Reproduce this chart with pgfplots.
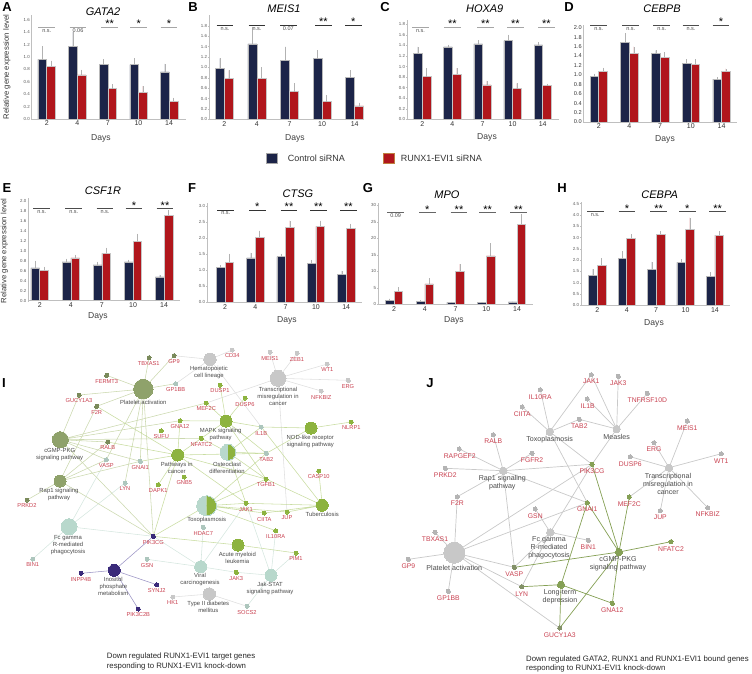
\documentclass[border=0pt]{standalone}
\usepackage{pgfplots}
\pgfplotsset{compat=1.18}
\usepackage{fontspec}
\setmainfont{Liberation Sans}
\usetikzlibrary{plotmarks}
\definecolor{navy}{HTML}{1C2448}
\definecolor{rd}{HTML}{B0161C}
\definecolor{gred}{HTML}{C8404F}
\definecolor{txt}{HTML}{4A4A4A}
\definecolor{olv}{HTML}{8FA26B}
\definecolor{grn}{HTML}{8DB33F}
\definecolor{tea}{HTML}{B8D8CC}
\definecolor{gry}{HTML}{C8C8C8}
\definecolor{pur}{HTML}{3A2A7A}
\definecolor{eolv}{HTML}{CBD8AE}
\definecolor{egrn}{HTML}{C8DCA0}
\definecolor{etea}{HTML}{D5E6DF}
\definecolor{egry}{HTML}{DEDEDE}
\definecolor{epur}{HTML}{9A93C4}
\definecolor{jgry}{HTML}{C9C9C9}
\definecolor{jgrn}{HTML}{85A055}
\newcommand\fs[1]{\fontsize{#1}{#1}\selectfont}
\newcommand\bars[9]{% left,base,right,height,x0,sp,ymax,extra,barw ; then blue, red via \bblue \bred
\pgfmathsetmacro\xa{(#1-#5)/#6}\pgfmathsetmacro\xb{(#3-#5)/#6}\pgfmathsetmacro\hw{#9/2}
\begin{axis}[scale only axis,at={(#1pt,-#2pt)},anchor=south west,width=#3pt-#1pt,height=#4pt,
 xmin=\xa,xmax=\xb,ymin=0,ymax=#7,axis x line=bottom,axis y line=left,
 axis line style={-,draw=gray!50,line width=.5pt},
 xtick={0,1,2,3,4},xticklabels={2,4,7,10,14},
 tick style={draw=gray!50,line width=.4pt},major tick length=1.5pt,
 xticklabel style={font=\fs{7},text=black!80,inner sep=0pt,yshift=-1pt},
 yticklabel style={font=\fs{4.4},text=black!65,inner sep=0pt,xshift=-1pt,/pgf/number format/fixed,/pgf/number format/fixed zerofill,/pgf/number format/precision=1,/pgf/number format/assume math mode=true},
 #8]
\edef\tmpa{\noexpand\addplot[ybar,bar width=#9pt,bar shift=-\hw pt,fill=navy,draw=gray!55,line width=.5pt,error bars/.cd,y dir=plus,y explicit,error bar style={draw=gray!60,line width=.5pt,xshift=-\hw pt},error mark=none] coordinates {\bblue};}\tmpa
\edef\tmpb{\noexpand\addplot[ybar,bar width=#9pt,bar shift=\hw pt,fill=rd,draw=gray!45,line width=.5pt,error bars/.cd,y dir=plus,y explicit,error bar style={draw=gray!60,line width=.5pt,xshift=\hw pt},error mark=none] coordinates {\bred};}\tmpb
\end{axis}}
\newcommand\At[4][]{\node[inner sep=0pt,#1] at (#2pt,-#3pt) {#4};}
\newcommand\Ltr[3]{\At{#1}{#2}{\fs{13}\bfseries #3}}
\newcommand\Ttl[3]{\At{#1}{#2}{\fs{11}\itshape #3}}
\newcommand\Dy[2]{\At{#1}{#2}{\fs{8.6}\color{black!75}Days}}
\newcommand\Sa[2]{\draw[\sc,line width=\sw pt] (#1pt-8.3pt,-\sy pt)--(#1pt+8.3pt,-\sy pt);\At[anchor=base]{#1}{\sy-4.8}{\fs{5.5}\color{black!70}#2}}
\newcommand\Sb[2]{\draw[\sc,line width=\sw pt] (#1pt-8.3pt,-\sy pt)--(#1pt+8.3pt,-\sy pt);\At[anchor=base]{#1}{\sy-0.3}{\fs{11}#2}}
\newcommand\Dc[3]{\expandafter\gdef\csname n@#1\endcsname{#2,#3}}
\newcommand\Hub[3]{\gdef\acc{}\foreach \x in {#3}{\xdef\acc{\acc (\csname n@#2\endcsname) (\csname n@\x\endcsname) }}%
\edef\tmp{\noexpand\addplot[no marks,draw=#1,line width=\elw pt] coordinates {\acc};}\tmp}
\newcommand\Nd[3]{\edef\tmp{\noexpand\addplot[color=#3,only marks,mark=*,mark size=#2pt,mark options={line width=0pt,draw=#3,fill=#3}] coordinates {(\csname n@#1\endcsname)};}\tmp}
\newcommand\Ns[3]{\foreach \x in {#3}{\Nd{\x}{#1}{#2}}}
\newcommand\Hf[3]{\edef\tmp{\noexpand\addplot[color=tea,only marks,mark=halfcircle*,mark size=#2pt,mark color=grn,mark options={line width=0pt,draw=tea,fill=tea,rotate=#3}] coordinates {(\csname n@#1\endcsname)};}\tmp}
\newcommand\Gi[3]{\At{#1}{#2}{\fs{5.7}\color{gred}#3}}
\newcommand\Ti[3]{\At[align=center,font={\fontsize{5.9}{7}\selectfont},text=txt]{#1}{#2}{#3}}
\newcommand\Gj[3]{\At{#1}{#2}{\fs{6.8}\color{gred}#3}}
\newcommand\Tj[3]{\At[align=center,font={\fontsize{7.1}{8}\selectfont},text=txt]{#1}{#2}{#3}}
\begin{document}
\begin{tikzpicture}[x=1pt,y=1pt]
\useasboundingbox (0,0) rectangle (752pt,-674pt);
% A
\def\bblue{(0,.96) +- (0,.21) (1,1.17) +- (0,.23) (2,.88) +- (0,.08) (3,.875) +- (0,.105) (4,.76) +- (0,.13)}
\def\bred{(0,.85) +- (0,.09) (1,.71) +- (0,.08) (2,.49) +- (0,.07) (3,.43) +- (0,.10) (4,.29) +- (0,.05)}
\bars{31.7}{119}{185.7}{104}{46.7}{30.6}{1.676}{ytick={0,.2,...,1.61}}{8.7}
% B
\def\bblue{(0,.98) +- (0,.19) (1,1.45) +- (0,.33) (2,1.14) +- (0,.26) (3,1.17) +- (0,.16) (4,.80) +- (0,.14)}
\def\bred{(0,.78) +- (0,.16) (1,.79) +- (0,.21) (2,.53) +- (0,.16) (3,.34) +- (0,.12) (4,.26) +- (0,.06)}
\bars{209}{119.3}{364}{104.3}{224.3}{32.6}{2.006}{ytick={0,.2,...,1.81}}{9}
% C
\def\bblue{(0,1.25) +- (0,.12) (1,1.37) +- (0,.04) (2,1.43) +- (0,.07) (3,1.49) +- (0,.11) (4,1.41) +- (0,.05)}
\def\bred{(0,.81) +- (0,.16) (1,.85) +- (0,.12) (2,.65) +- (0,.08) (3,.58) +- (0,.10) (4,.64) +- (0,.03)}
\bars{407}{119.3}{558.7}{99.3}{422.3}{30.1}{1.881}{ytick={0,.2,...,1.81}}{8.7}
% D
\def\bblue{(0,.96) +- (0,.06) (1,1.69) +- (0,.19) (2,1.45) +- (0,.07) (3,1.25) +- (0,.08) (4,.91) +- (0,.04)}
\def\bred{(0,1.08) +- (0,.07) (1,1.46) +- (0,.14) (2,1.37) +- (0,.11) (3,1.22) +- (0,.11) (4,1.08) +- (0,.05)}
\bars{583.7}{122}{737}{97}{598.7}{30.7}{2.057}{ytick={0,.2,...,2.01},yticklabel style={font=\fs{5.6},text=black!80}}{8.7}
% E
\def\bblue{(0,.66) +- (0,.14) (1,.78) +- (0,.06) (2,.72) +- (0,.06) (3,.78) +- (0,.04) (4,.48) +- (0,.04)}
\def\bred{(0,.61) +- (0,.07) (1,.86) +- (0,.06) (2,.95) +- (0,.11) (3,1.19) +- (0,.15) (4,1.71) +- (0,.10)}
\bars{28.3}{300.7}{180}{102.7}{39.7}{31.1}{2.06}{ytick={0,.2,...,2.01}}{8.7}
% F
\def\bblue{(0,1.09) +- (0,.07) (1,1.38) +- (0,.16) (2,1.42) +- (0,.09) (3,1.21) +- (0,.11) (4,.88) +- (0,.10)}
\def\bred{(0,1.25) +- (0,.26) (1,2.03) +- (0,.20) (2,2.34) +- (0,.20) (3,2.36) +- (0,.18) (4,2.29) +- (0,.15)}
\bars{207}{302.3}{362}{99.3}{225}{30.3}{3.09}{ytick={0,.5,...,3.01}}{8.7}
% G
\def\bblue{(0,1.2) +- (0,.5) (1,1.0) +- (0,.3) (2,.6) +- (0,.1) (3,.5) +- (0,.1) (4,.7) +- (0,.1)}
\def\bred{(0,3.9) +- (0,1.3) (1,6.2) +- (0,1.7) (2,10) +- (0,2.2) (3,14.7) +- (0,3.8) (4,24.2) +- (0,3.1)}
\bars{378}{304.3}{532.7}{101.3}{394}{30.75}{30.7}{ytick={0,5,...,30},yticklabel style={/pgf/number format/precision=0,/pgf/number format/fixed zerofill=false}}{8.7}
% H
\def\bblue{(0,1.33) +- (0,.27) (1,2.09) +- (0,.31) (2,1.60) +- (0,.32) (3,1.90) +- (0,.15) (4,1.29) +- (0,.18)}
\def\bred{(0,1.78) +- (0,.30) (1,2.98) +- (0,.17) (2,3.14) +- (0,.14) (3,3.35) +- (0,.53) (4,3.11) +- (0,.17)}
\bars{581}{305.3}{729.7}{103.3}{597.3}{29.4}{4.575}{ytick={0,.5,...,4.51}}{8.7}
% Network canvas
\begin{axis}[scale only axis,at={(0,-674pt)},anchor=south west,width=752pt,height=674pt,xmin=0,xmax=752,ymin=0,ymax=674,y dir=reverse,hide axis,clip=false]
\Dc{PA}{143.3}{389}\Dc{HE}{210}{359.3}\Dc{CD34}{232.3}{350}\Dc{GP9}{174}{355.7}\Dc{TBXAS1}{149}{357.7}
\Dc{FERMT3}{106.7}{375.3}\Dc{GP1BB}{175.7}{383.7}\Dc{GUCY1A3}{79}{395}\Dc{F2R}{96.7}{406.3}
\Dc{MEIS1}{270}{352.3}\Dc{ZEB1}{297}{353.3}\Dc{WT1}{327.3}{364}\Dc{ERG}{348.3}{380.3}\Dc{NFKBIZ}{321.3}{391}
\Dc{TR}{278}{378.3}\Dc{DUSP1}{220}{385}\Dc{DUSP6}{245}{398}\Dc{MEF2C}{206.3}{403}\Dc{GNA12}{180}{420.7}
\Dc{MAPK}{226}{421}\Dc{IL1B}{261.3}{427}\Dc{NOD}{311}{428}\Dc{NLRP1}{351.3}{422}\Dc{CG}{60.3}{439.7}
\Dc{RALB}{107.7}{442}\Dc{SUFU}{161.3}{430.7}\Dc{NFATC2}{201.3}{438.3}\Dc{PC}{177.7}{455}\Dc{OS}{228}{452.3}
\Dc{TAB2}{266.3}{453.3}\Dc{VASP}{106.3}{459.7}\Dc{GNAI1}{140.3}{461.3}\Dc{GNB5}{184.3}{477}\Dc{TGFB1}{266}{479}
\Dc{RP}{60}{481}\Dc{LYN}{125}{483}\Dc{DAPK1}{158.3}{484.7}\Dc{CASP10}{318.7}{471}\Dc{PRKD2}{27}{500}
\Dc{TX}{206.7}{505.7}\Dc{TB}{322.3}{505.3}\Dc{JAK1}{246}{503.3}\Dc{CIITA}{264.3}{513}\Dc{JUP}{287}{512}
\Dc{IL10RA}{275.7}{530.7}\Dc{HDAC7}{203.3}{527.3}\Dc{FC}{69}{526.7}\Dc{PIK3CG}{153.3}{536.3}\Dc{AML}{238}{545}
\Dc{PIM1}{296}{553}\Dc{BIN1}{32.7}{559}\Dc{GSN}{147}{559.3}\Dc{IN}{114.3}{570.3}\Dc{INPP4B}{81}{573.3}
\Dc{SYNJ2}{156.7}{584.7}\Dc{PIK3C2B}{138.3}{609}\Dc{VI}{200.7}{566.7}\Dc{JAK3}{236.3}{572.3}\Dc{JS}{271}{575.3}
\Dc{T2}{209.3}{594}\Dc{HK1}{172.7}{597}\Dc{SOCS2}{247}{606.3}
\def\elw{.55}
\Hub{egry}{HE}{CD34,GP9,GP1BB,IL1B}
\Hub{egry}{TR}{MEIS1,ZEB1,WT1,ERG,NFKBIZ,MEF2C,JUP}
\Hub{egry}{T2}{HK1,SOCS2}
\Hub{etea}{FC}{BIN1,PIK3CG,VASP,LYN}
\Hub{etea}{VI}{PIK3CG,HDAC7,GSN,JAK1,JAK3}
\Hub{etea}{JS}{JAK3,JAK1,PIM1,IL10RA,SOCS2}
\Hub{eolv}{PA}{TBXAS1,GP9,FERMT3,GP1BB,GUCY1A3,F2R,GNAI1,LYN,VASP,PIK3CG}
\Hub{eolv}{CG}{GUCY1A3,MEF2C,GNA12,NFATC2,VASP,GNAI1,RALB,PIK3CG}
\Hub{eolv}{RP}{F2R,RALB,VASP,GNAI1,PRKD2,PIK3CG}
\Hub{egrn}{PC}{GNA12,F2R,DAPK1,RALB,GNAI1,NFATC2,TGFB1,TAB2,JAK1,PIK3CG}
\Hub{egrn}{MAPK}{DUSP1,DUSP6,MEF2C,GNA12,IL1B,TAB2,TGFB1,NFATC2}
\Hub{egrn}{NOD}{NLRP1,IL1B,TAB2}
\Hub{egrn}{OS}{IL1B,TAB2,TGFB1,NFATC2,JAK1}
\Hub{egrn}{TX}{JAK1,CIITA,JUP,IL10RA,TGFB1,TAB2,PIK3CG}
\Hub{egrn}{TB}{JAK1,CIITA,JUP,IL1B,TGFB1,CASP10}
\Hub{egrn}{AML}{PIK3CG,PIM1}
\Hub{epur}{IN}{INPP4B,SYNJ2,PIK3C2B,PIK3CG}
\Nd{PA}{9.7}{olv}\Nd{CG}{8}{olv}\Nd{RP}{6}{olv}
\Nd{HE}{6.2}{gry}\Nd{TR}{8}{gry}\Nd{T2}{6.2}{gry}
\Nd{MAPK}{6}{grn}\Nd{NOD}{6}{grn}\Nd{PC}{6}{grn}\Nd{TB}{6}{grn}\Nd{AML}{6}{grn}
\Nd{FC}{8}{tea}\Nd{VI}{6}{tea}\Nd{JS}{6}{tea}\Nd{IN}{6}{pur}
\Hf{OS}{8}{90}\Hf{TX}{10}{90}
\Ns{2}{gry}{CD34,MEIS1,ZEB1,WT1,ERG,NFKBIZ,HK1}
\Ns{2}{olv!85!black}{GP9,TBXAS1,FERMT3,GUCY1A3,F2R,RALB,PRKD2}
\Ns{2}{grn}{DUSP1,DUSP6,GNA12,SUFU,GNB5,DAPK1,CASP10,NLRP1,MEF2C,NFATC2,JAK3,PIM1,IL10RA,TGFB1,CIITA,JUP,JAK1}
\Ns{2}{tea!80!gray}{VASP,BIN1,GSN,HDAC7,SOCS2,TAB2,GNAI1,GP1BB,LYN,IL1B}
\Ns{2}{pur}{INPP4B,SYNJ2,PIK3C2B,PIK3CG}
% Panel J
\Dc{JAK1}{591.3}{374.7}\Dc{JAK3}{618.3}{376.3}\Dc{IL10RA}{540.3}{389.7}\Dc{IL1B}{587.3}{399}\Dc{TNF}{647.3}{393.3}
\Dc{CIITA}{522.3}{407}\Dc{TAB2}{579.3}{419.3}\Dc{MEIS1}{687.3}{421}\Dc{TX}{549.7}{431.7}\Dc{ME}{616.7}{429}
\Dc{RALB}{493.3}{434.7}\Dc{RAPGEF2}{459.3}{449}\Dc{FGFR2}{532}{453.3}\Dc{ERG}{654}{442.7}\Dc{WT1}{721.3}{453.7}
\Dc{DUSP6}{630.3}{456.7}\Dc{PRKD2}{445.3}{468.3}\Dc{RP}{503.3}{470.7}\Dc{PIK3CG}{592}{464.3}\Dc{TR}{669}{467.7}
\Dc{F2R}{457.3}{496.7}\Dc{MEF2C}{629.3}{497}\Dc{GNAI1}{587.3}{502.7}\Dc{GSN}{535.3}{509}\Dc{JUP}{660.3}{510.7}
\Dc{NFKBIZ}{707.7}{507.7}\Dc{FC}{550.3}{532.3}\Dc{TBXAS1}{435}{532.3}\Dc{BIN1}{588.3}{540.3}\Dc{NFATC2}{671}{541.7}
\Dc{CG}{619}{552}\Dc{PA}{454.3}{552.7}\Dc{GP9}{408.3}{559.3}\Dc{VASP}{514.3}{567.3}\Dc{LYN}{521.7}{586.7}
\Dc{LT}{561}{584.7}\Dc{GP1BB}{448.3}{591.3}\Dc{GNA12}{612.3}{603.3}\Dc{GUCY1A3}{559.7}{628}
\def\elw{.7}
\Hub{jgry}{TX}{JAK1,IL10RA,CIITA,TAB2,PIK3CG,GNAI1}
\Hub{jgry}{ME}{JAK1,JAK3,IL1B,TNF,TAB2,PIK3CG}
\Hub{jgry}{RP}{RALB,RAPGEF2,PRKD2,FGFR2,PIK3CG,F2R,GNAI1,VASP}
\Hub{jgry}{TR}{MEIS1,ERG,WT1,DUSP6,MEF2C,JUP,NFKBIZ}
\Hub{jgry}{FC}{GSN,BIN1,PIK3CG,VASP,LYN}
\Hub{jgry}{PA}{TBXAS1,GP9,GP1BB,F2R,PIK3CG,GNAI1,VASP,LYN,GUCY1A3}
\Hub{jgrn}{CG}{PIK3CG,MEF2C,GNAI1,NFATC2,VASP,GNA12,GUCY1A3}
\Hub{jgrn}{LT}{GNAI1,LYN,GNA12,GUCY1A3}
\Nd{PA}{10.5}{gry}\Nd{TX}{3.7}{gry}\Nd{ME}{3.7}{gry}\Nd{RP}{3.7}{gry}\Nd{TR}{3.7}{gry}\Nd{FC}{3.7}{gry}
\Nd{CG}{3.7}{jgrn}\Nd{LT}{3.7}{jgrn}
\Ns{2.1}{gry!90!black}{JAK1,JAK3,IL10RA,IL1B,TNF,CIITA,TAB2,MEIS1,RALB,RAPGEF2,FGFR2,ERG,WT1,DUSP6,PRKD2,F2R,GSN,JUP,NFKBIZ,TBXAS1,BIN1,GP9,GP1BB}
\Ns{2.1}{jgrn}{PIK3CG,MEF2C,GNAI1,NFATC2,GNA12}
\Ns{2.1}{jgrn!55!gray}{VASP,LYN,GUCY1A3}
\end{axis}
% Text of bar panels
\Ltr{7}{7}{A}\Ltr{193}{7}{B}\Ltr{385}{7}{C}\Ltr{569}{7}{D}\Ltr{7}{188}{E}\Ltr{192}{188}{F}\Ltr{368}{188}{G}\Ltr{562}{188}{H}\Ltr{4}{383}{I}\Ltr{430}{383}{J}
\Ttl{103}{12}{GATA2}\Ttl{284}{9}{MEIS1}\Ttl{484.7}{9}{HOXA9}\Ttl{662}{9}{CEBPB}\Ttl{103}{191}{CSF1R}\Ttl{298}{194}{CTSG}\Ttl{447}{195}{MPO}\Ttl{659.7}{195}{CEBPA}
\Dy{101}{138}\Dy{295}{138}\Dy{487}{137}\Dy{665}{139}\Dy{98}{316}\Dy{287}{320}\Dy{454}{320}\Dy{654}{323}
\At[rotate=90]{7}{67}{\fs{7.7}\color{black!80}Relative gene expression level}
\At[rotate=90]{4.5}{251}{\fs{7.7}\color{black!80}Relative gene expression level}
\def\sw{1.2}
\def\sy{27.7}\def\sc{gray!70}
\Sa{46.7}{n.s.}\Sa{78}{0.06}\Sb{109.7}{**}\Sb{138.7}{*}\Sb{169}{*}
\def\sy{27.7}
\Sa{420.5}{n.s.}\Sb{452.3}{**}\Sb{485.3}{**}\Sb{515.3}{**}\Sb{546.3}{**}
\def\sw{.9}
\def\sy{25.3}\def\sc{black!80}
\Sa{225}{n.s.}\Sa{257}{n.s.}\Sa{288.3}{0.07}\Sb{323.3}{**}\Sb{353.3}{*}
\def\sy{25.7}\def\sc{black!70}
\Sa{598.7}{n.s.}\Sa{630.7}{n.s.}\Sa{661.7}{n.s.}\Sa{691}{n.s.}\Sb{721}{*}
\def\sy{208.7}\def\sc{black!70}
\Sa{41.7}{n.s.}\Sa{73.7}{n.s.}\Sa{105}{n.s.}\Sb{134}{*}\Sb{165}{**}
\def\sy{210}\def\sc{black!80}
\Sa{225.7}{n.s.}\Sb{257.3}{*}\Sb{289}{**}\Sb{318.3}{**}\Sb{348.3}{**}
\def\sy{212.7}\def\sc{black!60}
\Sa{395.7}{0.09}\Sb{427.3}{*}\Sb{459}{**}\Sb{487.7}{**}\Sb{518.3}{**}
\def\sy{211.7}\def\sc{black!70}
\Sa{595.3}{n.s.}\Sb{627}{*}\Sb{658.7}{**}\Sb{687.3}{*}\Sb{717.7}{**}
% Legend
\fill[navy,draw=gray!70,line width=.6pt] (266pt,-153.7pt) rectangle (277.7pt,-163.7pt);
\At[anchor=west]{287.7}{158.7}{\fs{9}\color{black!80}Control siRNA}
\fill[rd,draw=orange!50!gray,line width=.6pt] (383pt,-153.7pt) rectangle (394.7pt,-163.7pt);
\At[anchor=west]{400.7}{158.7}{\fs{9}\color{black!80}RUNX1-EVI1 siRNA}
% Labels I
\Gi{148.7}{363.7}{TBXAS1}\Gi{174}{361.7}{GP9}\Gi{232.3}{356}{CD34}\Gi{106.7}{381.7}{FERMT3}\Gi{175.7}{390}{GP1BB}
\Gi{79}{401}{GUCY1A3}\Gi{96.7}{412.3}{F2R}\Gi{270}{358.3}{MEIS1}\Gi{297}{359.7}{ZEB1}\Gi{327.3}{370}{WT1}
\Gi{348}{386.7}{ERG}\Gi{321.3}{397.3}{NFKBIZ}\Gi{220}{391}{DUSP1}\Gi{245}{404.3}{DUSP6}\Gi{206.3}{409}{MEF2C}
\Gi{180}{426.7}{GNA12}\Gi{261.3}{433.7}{IL1B}\Gi{351.3}{428}{NLRP1}\Gi{107.7}{447.7}{RALB}\Gi{161.3}{436.7}{SUFU}
\Gi{201.3}{444.3}{NFATC2}\Gi{266.3}{459.3}{TAB2}\Gi{106.3}{465.7}{VASP}\Gi{140.3}{467.3}{GNAI1}\Gi{184.3}{483}{GNB5}
\Gi{266}{485}{TGFB1}\Gi{125}{489}{LYN}\Gi{158.3}{491}{DAPK1}\Gi{318.7}{476.7}{CASP10}\Gi{27}{505.7}{PRKD2}
\Gi{246}{509.3}{JAK1}\Gi{264.3}{519.3}{CIITA}\Gi{287}{518}{JUP}\Gi{275.7}{536.3}{IL10RA}\Gi{203.3}{533.3}{HDAC7}
\Gi{153.3}{542.3}{PIK3CG}\Gi{296}{559}{PIM1}\Gi{32.7}{565}{BIN1}\Gi{147}{565.3}{GSN}\Gi{81}{579.3}{INPP4B}
\Gi{156.7}{590.7}{SYNJ2}\Gi{138.3}{615}{PIK3C2B}\Gi{236.3}{578.3}{JAK3}\Gi{172.7}{603}{HK1}\Gi{247}{612.3}{SOCS2}
\Ti{209}{372.7}{Hematopoietic\\cell lineage}\Ti{143.3}{402.3}{Platelet activation}
\Ti{278}{396.7}{Transcriptional\\misregulation in\\cancer}\Ti{220.7}{434.3}{MAPK signaling\\pathway}
\Ti{310.3}{441.3}{NOD-like receptor\\signaling pathway}\Ti{59.7}{455}{cGMP-PKG\\signaling pathway}
\Ti{176.7}{467.7}{Pathways in\\cancer}\Ti{227}{467.7}{Osteoclast\\differentiation}\Ti{59}{494}{Rap1 signaling\\pathway}
\Ti{206.7}{519.7}{Toxoplasmosis}\Ti{322.3}{514.7}{Tuberculosis}\Ti{68}{545}{Fc gamma\\R-mediated\\phagocytosis}
\Ti{237.3}{558}{Acute myeloid\\leukemia}\Ti{113.3}{586.7}{Inositol\\phosphate\\metabolism}
\Ti{200}{579.7}{Viral\\carcinogenesis}\Ti{270}{588}{Jak-STAT\\signaling pathway}\Ti{208.3}{607}{Type II diabetes\\mellitus}
% Labels J
\Gj{591.3}{381.3}{JAK1}\Gj{618.3}{383}{JAK3}\Gj{540.3}{396.7}{IL10RA}\Gj{587.7}{405.7}{IL1B}\Gj{647.3}{400.3}{TNFRSF10D}
\Gj{522.3}{414}{CIITA}\Gj{579.3}{426.3}{TAB2}\Gj{687.3}{427.7}{MEIS1}\Gj{493.3}{441.3}{RALB}\Gj{459.7}{456}{RAPGEF2}
\Gj{532}{460.3}{FGFR2}\Gj{654}{449.3}{ERG}\Gj{721.3}{460.7}{WT1}\Gj{630.3}{463.7}{DUSP6}\Gj{445.3}{475.3}{PRKD2}
\Gj{592}{471.3}{PIK3CG}\Gj{457.3}{503.3}{F2R}\Gj{629.3}{503.7}{MEF2C}\Gj{587.3}{509.3}{GNAI1}\Gj{535.3}{515.7}{GSN}
\Gj{660.3}{517.3}{JUP}\Gj{707.7}{514.3}{NFKBIZ}\Gj{435}{539}{TBXAS1}\Gj{588.3}{547}{BIN1}\Gj{671}{548.7}{NFATC2}
\Gj{408.3}{566}{GP9}\Gj{514.3}{574}{VASP}\Gj{521.7}{594}{LYN}\Gj{448.3}{598.3}{GP1BB}\Gj{612.3}{610.3}{GNA12}\Gj{559.7}{635}{GUCY1A3}
\Tj{549.7}{439.3}{Toxoplasmosis}\Tj{616.7}{437}{Measles}\Tj{502.3}{482.7}{Rap1 signaling\\pathway}
\Tj{668}{483.7}{Transcriptional\\misregulation in\\cancer}\Tj{549}{548}{Fc gamma\\R-mediated\\phagocytosis}
\Tj{454.3}{567.7}{Platelet activation}\Tj{618}{564}{cGMP-PKG\\signaling pathway}\Tj{560}{596.7}{Long-term\\depression}
% Captions
\At[anchor=west,align=left,font={\fontsize{7.8}{9.4}\selectfont},text=black!85]{106.7}{661.3}{Down regulated RUNX1-EVI1 target genes\\responding to RUNX1-EVI1 knock-down}
\At[anchor=west,align=left,font={\fontsize{7.8}{9.7}\selectfont},text=black!85]{526}{664}{Down regulated GATA2, RUNX1 and RUNX1-EVI1 bound genes\\responding to RUNX1-EVI1 knock-down}
\end{tikzpicture}
\end{document}
